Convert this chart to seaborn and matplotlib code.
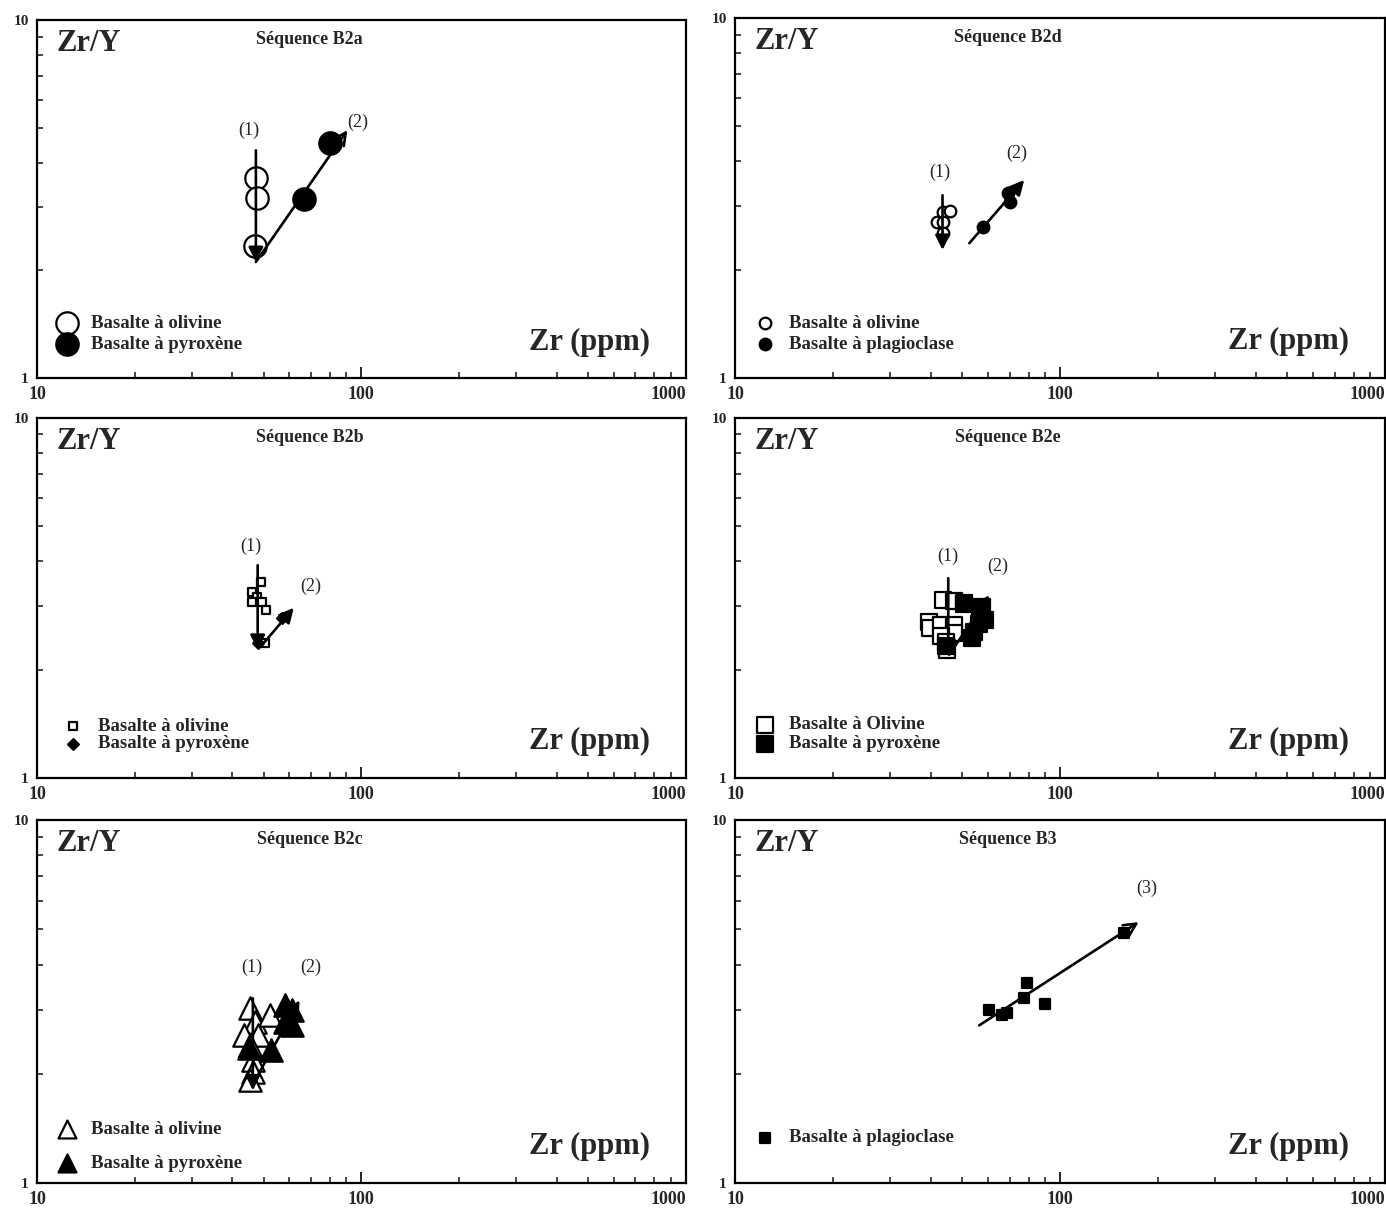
import matplotlib
matplotlib.use('Agg')
import matplotlib.pyplot as plt
import seaborn as sns
import pandas as pd
from matplotlib.ticker import LogLocator, NullFormatter, FixedLocator, FixedFormatter

# ---- data (Zr ppm, Zr/Y) ----
# Sequence B2a
b2a_oliv_zr = [47.3, 47.8, 47.0]
b2a_oliv_zry = [3.62, 3.18, 2.34]
b2a_pyr_zr = [66.4, 80.3]
b2a_pyr_zry = [3.16, 4.53]
b2a_trend1 = [(47.3, 4.33), (47.3, 2.11)]
b2a_trend2 = [(47.3, 2.11), (90.6, 4.93)]

# Sequence B2d
b2d_oliv_zr = [43.8, 46.0, 41.7, 43.8, 43.8]
b2d_oliv_zry = [2.89, 2.91, 2.71, 2.71, 2.53]
b2d_plag_zr = [58.0, 70.2, 69.2]
b2d_plag_zry = [2.63, 3.08, 3.26]
b2d_trend1 = [(43.5, 3.22), (43.5, 2.27)]
b2d_trend2 = [(52.6, 2.37), (77.6, 3.55)]

# Sequence B2b
b2b_oliv_zr = [49.0, 46.0, 47.6, 46.0, 49.4, 50.8, 50.4]
b2b_oliv_zry = [3.50, 3.29, 3.18, 3.08, 3.08, 2.93, 2.37]
b2b_pyr_zr = [47.9, 56.8]
b2b_pyr_zry = [2.37, 2.78]
b2b_trend1 = [(47.9, 3.90), (47.9, 2.27)]
b2b_trend2 = [(49.4, 2.34), (61.9, 2.97)]

# Sequence B2e
b2e_oliv_zr = [43.8, 47.3, 50.8, 39.4, 39.7, 42.9, 47.3, 47.3, 42.9, 44.7, 45.0]
b2e_oliv_zry = [3.12, 3.10, 3.06, 2.71, 2.61, 2.66, 2.66, 2.53, 2.48, 2.39, 2.27]
b2e_pyr_zr = [50.8, 57.6, 56.9, 58.9, 56.4, 54.5, 53.7, 44.7]
b2e_pyr_zry = [3.04, 2.98, 2.87, 2.75, 2.68, 2.55, 2.45, 2.33]
b2e_trend1 = [(45.3, 3.59), (45.3, 2.20)]
b2e_trend2 = [(45.6, 2.20), (60.6, 3.22)]

# Sequence B2c
b2c_oliv_zr = [45.3, 47.0, 52.2, 43.4, 48.0, 45.3, 46.3, 46.3, 45.3]
b2c_oliv_zry = [3.03, 2.78, 2.90, 2.56, 2.56, 2.40, 2.18, 2.02, 1.92]
b2c_pyr_zr = [58.0, 61.0, 58.0, 61.0, 52.6, 45.0]
b2c_pyr_zry = [3.09, 3.00, 2.78, 2.72, 2.32, 2.35]
b2c_trend1 = [(46.3, 3.23), (46.3, 1.80)]
b2c_trend2 = [(47.0, 1.92), (64.5, 3.19)]

# Sequence B3
b3_plag_zr = [60.6, 66.4, 68.7, 77.6, 79.3, 90.0, 157.0]
b3_plag_zry = [3.00, 2.90, 2.94, 3.23, 3.56, 3.11, 4.88]
b3_trend = [(56.4, 2.72), (174.6, 5.24)]

FONT = ['Liberation Serif', 'DejaVu Serif']

sns.set_style('white')
plt.rcParams['font.family'] = FONT


def setup_axes(ax, title):
    ax.set_xscale('log')
    ax.set_yscale('log')
    ax.set_xlim(10, 1000)
    ax.set_ylim(1, 10)
    for s in ax.spines.values():
        s.set_linewidth(1.6)
        s.set_color('black')
    ax.xaxis.set_major_locator(FixedLocator([10, 100, 1000]))
    ax.xaxis.set_major_formatter(FixedFormatter(['10', '100', '1000']))
    ax.xaxis.set_minor_locator(LogLocator(base=10, subs=range(2, 10)))
    ax.xaxis.set_minor_formatter(NullFormatter())
    ax.yaxis.set_major_locator(FixedLocator([1, 10]))
    ax.yaxis.set_major_formatter(FixedFormatter(['1', '10']))
    ax.yaxis.set_minor_locator(LogLocator(base=10, subs=range(2, 10)))
    ax.yaxis.set_minor_formatter(NullFormatter())
    ax.tick_params(axis='x', which='major', direction='in', length=8, width=1.4,
                   bottom=True, top=False, pad=6, labelsize=13)
    ax.tick_params(axis='x', which='minor', direction='in', length=4, width=1.2,
                   bottom=True, top=False)
    ax.tick_params(axis='y', which='major', direction='in', length=0, pad=6,
                   left=True, right=False, labelsize=11)
    ax.tick_params(axis='y', which='minor', direction='in', length=4, width=1.2,
                   left=True, right=False)
    for lab in ax.get_xticklabels() + ax.get_yticklabels():
        lab.set_fontweight('bold')
    ax.get_xticklabels()[2].set_horizontalalignment('right')
    ax.set_xlabel('')
    ax.set_ylabel('')
    ax.text(0.03, 0.975, 'Zr/Y', transform=ax.transAxes, fontsize=22,
            fontweight='bold', va='top', ha='left')
    ax.text(0.945, 0.06, 'Zr (ppm)', transform=ax.transAxes, fontsize=22,
            fontweight='bold', va='bottom', ha='right')
    ax.text(0.42, 0.97, title, transform=ax.transAxes, fontsize=13,
            fontweight='bold', va='top', ha='center')


def trend(ax, seg, label, lab_xy, style='-|>'):
    ax.annotate('', xy=seg[1], xytext=seg[0],
                arrowprops=dict(arrowstyle=style, color='black', lw=1.9,
                                mutation_scale=22, shrinkA=0, shrinkB=0))
    ax.text(lab_xy[0], lab_xy[1], label, fontsize=13, ha='center', va='center')


def points(ax, x, y, marker, size, filled, label):
    df = pd.DataFrame({'Zr': x, 'ZrY': y})
    sns.scatterplot(data=df, x='Zr', y='ZrY', ax=ax, marker=marker, s=size,
                    facecolor='black' if filled else 'white',
                    edgecolor='black', linewidth=1.6, label=label, zorder=3)


def legend(ax, anchor, spacing=0.3, scale=1.0):
    ax.legend(loc='lower left', bbox_to_anchor=anchor, frameon=False,
              prop={'family': FONT, 'weight': 'bold', 'size': 13.5},
              handletextpad=0.8, labelspacing=spacing, borderaxespad=0,
              markerscale=scale, handlelength=1.0)


fig = plt.figure(figsize=(13.86, 12.09), dpi=100)
ax_a = fig.add_axes([0.0267, 0.6873, 0.468, 0.2960])
ax_d = fig.add_axes([0.5303, 0.6873, 0.4690, 0.2977])
ax_b = fig.add_axes([0.0267, 0.3565, 0.468, 0.2978])
ax_e = fig.add_axes([0.5303, 0.3565, 0.4690, 0.2978])
ax_c = fig.add_axes([0.0267, 0.0215, 0.468, 0.3000])
ax_3 = fig.add_axes([0.5303, 0.0215, 0.4690, 0.3000])

# B2a
points(ax_a, b2a_oliv_zr, b2a_oliv_zry, 'o', 260, False, 'Basalte à olivine')
points(ax_a, b2a_pyr_zr, b2a_pyr_zry, 'o', 260, True, 'Basalte à pyroxène')
trend(ax_a, b2a_trend1, '(1)', (45.0, 4.93))
trend(ax_a, b2a_trend2, '(2)', (97.2, 5.19), style='->')
legend(ax_a, (0.02, 0.05), spacing=0.2)
setup_axes(ax_a, 'Séquence B2a')

# B2d
points(ax_d, b2d_oliv_zr, b2d_oliv_zry, 'o', 70, False, 'Basalte à olivine')
points(ax_d, b2d_plag_zr, b2d_plag_zry, 'o', 70, True, 'Basalte à plagioclase')
trend(ax_d, b2d_trend1, '(1)', (42.6, 3.73))
trend(ax_d, b2d_trend2, '(2)', (73.8, 4.22))
legend(ax_d, (0.02, 0.05), spacing=0.2)
setup_axes(ax_d, 'Séquence B2d')

# B2b
points(ax_b, b2b_oliv_zr, b2b_oliv_zry, 's', 35, False, 'Basalte à olivine')
points(ax_b, b2b_pyr_zr, b2b_pyr_zry, 'D', 30, True, 'Basalte à pyroxène')
trend(ax_b, b2b_trend1, '(1)', (45.7, 4.41))
trend(ax_b, b2b_trend2, '(2)', (69.8, 3.41))
legend(ax_b, (0.03, 0.05), spacing=0.0)
setup_axes(ax_b, 'Séquence B2b')

# B2e
points(ax_e, b2e_oliv_zr, b2e_oliv_zry, 's', 130, False, 'Basalte à Olivine')
points(ax_e, b2e_pyr_zr, b2e_pyr_zry, 's', 130, True, 'Basalte à pyroxène')
trend(ax_e, b2e_trend1, '(1)', (45.3, 4.14))
trend(ax_e, b2e_trend2, '(2)', (64.5, 3.88))
legend(ax_e, (0.02, 0.05), spacing=0.1)
setup_axes(ax_e, 'Séquence B2e')

# B2c
points(ax_c, b2c_oliv_zr, b2c_oliv_zry, '^', 260, False, 'Basalte à olivine')
points(ax_c, b2c_pyr_zr, b2c_pyr_zry, '^', 260, True, 'Basalte à pyroxène')
trend(ax_c, b2c_trend1, '(1)', (46.0, 3.94))
trend(ax_c, b2c_trend2, '(2)', (69.8, 3.94))
legend(ax_c, (0.02, 0.01), spacing=0.9, scale=0.8)
setup_axes(ax_c, 'Séquence B2c')

# B3
points(ax_3, b3_plag_zr, b3_plag_zry, 's', 45, True, 'Basalte à plagioclase')
trend(ax_3, b3_trend, '(3)', (185.0, 6.5), style='->')
legend(ax_3, (0.02, 0.08))
setup_axes(ax_3, 'Séquence B3')

fig.savefig('out.png', dpi=100)
